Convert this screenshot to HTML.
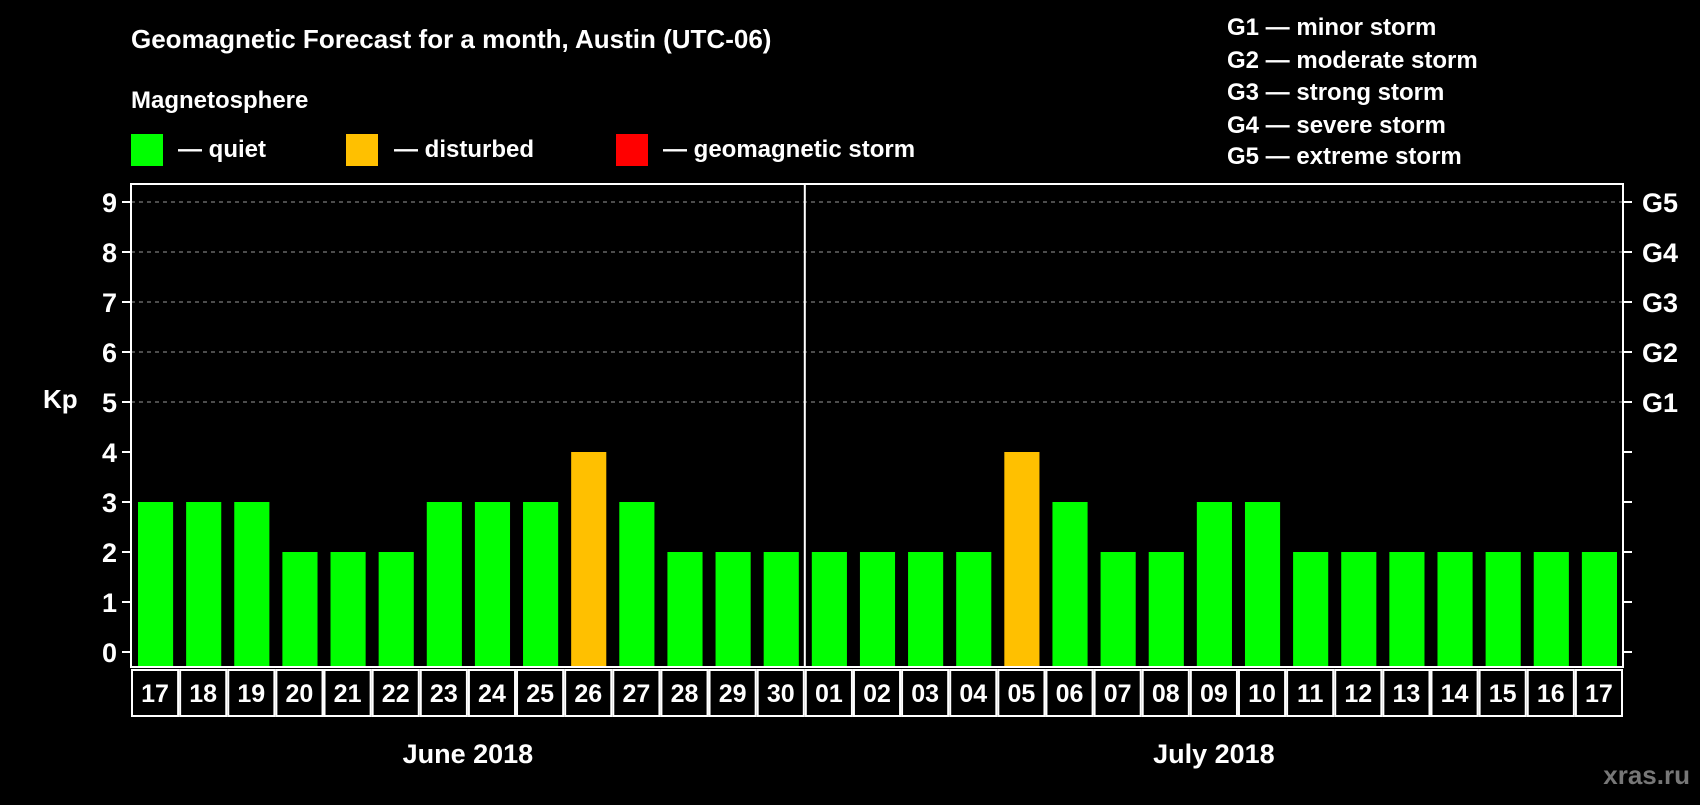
<!DOCTYPE html>
<html><head><meta charset="utf-8"><style>
body{margin:0;background:#000;width:1700px;height:800px;overflow:hidden}
svg text{font-family:"Liberation Sans",Arial,sans-serif;font-weight:bold;fill:#fff}
</style></head><body>
<svg id="c" width="1700" height="800" xmlns="http://www.w3.org/2000/svg">
<text x="131" y="48" font-size="26">Geomagnetic Forecast for a month, Austin (UTC-06)</text>
<text x="131" y="108" font-size="24">Magnetosphere</text>
<rect x="131" y="134" width="32" height="32" fill="#00ff00"/>
<text x="178" y="157" font-size="24">— quiet</text>
<rect x="346" y="134" width="32" height="32" fill="#ffc000"/>
<text x="394" y="157" font-size="24">— disturbed</text>
<rect x="616" y="134" width="32" height="32" fill="#ff0000"/>
<text x="663" y="157" font-size="24">— geomagnetic storm</text>
<g font-size="24">
<text x="1227" y="35">G1 — minor storm</text>
<text x="1227" y="68">G2 — moderate storm</text>
<text x="1227" y="100">G3 — strong storm</text>
<text x="1227" y="133">G4 — severe storm</text>
<text x="1227" y="164">G5 — extreme storm</text>
</g>
<text x="43" y="408" font-size="26">Kp</text>
<text x="1690" y="784" font-size="26" text-anchor="end" style="fill:#777">xras.ru</text>
<g id="plot"></g>
</svg>
<script>
const days=["17","18","19","20","21","22","23","24","25","26","27","28","29","30","01","02","03","04","05","06","07","08","09","10","11","12","13","14","15","16","17"];
const kp=[3,3,3,2,2,2,3,3,3,4,3,2,2,2,2,2,2,2,4,3,2,2,3,3,2,2,2,2,2,2,2];
const yTicks=[0,1,2,3,4,5,6,7,8,9];
const gLabels=["G1","G2","G3","G4","G5"];
const months=["June 2018","July 2018"];
const L=131,R=1623,T=184,B=667,Y0=652,U=50;
const n=days.length,sw=(R-L)/n;
const y=v=>Y0-v*U, x=i=>L+i*sw;
const g=document.getElementById('plot'),NS="http://www.w3.org/2000/svg";
function mk(t,a,p){const e=document.createElementNS(NS,t);for(const k in a)e.setAttribute(k,a[k]);(p||g).appendChild(e);return e;}
yTicks.forEach(v=>{
 if(v>=5){const l=mk('line',{x1:L,x2:R,y1:y(v),y2:y(v),stroke:'#999','stroke-dasharray':'4 4','stroke-width':1});
 
 }
 mk('line',{x1:L-9,x2:L,y1:y(v),y2:y(v),stroke:'#fff','stroke-width':2});
 mk('line',{x1:R,x2:R+9,y1:y(v),y2:y(v),stroke:'#fff','stroke-width':2});
 const t=mk('text',{x:L-14,y:y(v)+10,'font-size':27,'text-anchor':'end'});t.textContent=v;
 
 
});
gLabels.forEach((s,i)=>{const t=mk('text',{x:R+19,y:y(5+i)+10,'font-size':27});t.textContent=s;
 
 });
kp.forEach((v,i)=>{
 const r=mk('rect',{x:x(i)+7,y:y(v),width:sw-13,height:B-y(v),fill:v>=5?'#ff0000':v>=4?'#ffc000':'#00ff00'});
 
 
 const b=mk('rect',{x:x(i)+1,y:670,width:sw-2,height:46,fill:'none',stroke:'#fff','stroke-width':2});
 
 
 const t=mk('text',{x:x(i)+sw/2,y:702,'font-size':25,'text-anchor':'middle'});t.textContent=days[i];
 
 
});
mk('rect',{x:L,y:T,width:R-L,height:B-T,fill:'none',stroke:'#fff','stroke-width':2});
const sep=mk('line',{x1:x(14),x2:x(14),y1:T,y2:B,stroke:'#fff','stroke-width':2});


months.forEach((m,i)=>{const t=mk('text',{x:i==0?x(7):x(14+8.5),y:763,'font-size':27,'text-anchor':'middle'});t.textContent=m;
 
 });
</script>
</body></html>
